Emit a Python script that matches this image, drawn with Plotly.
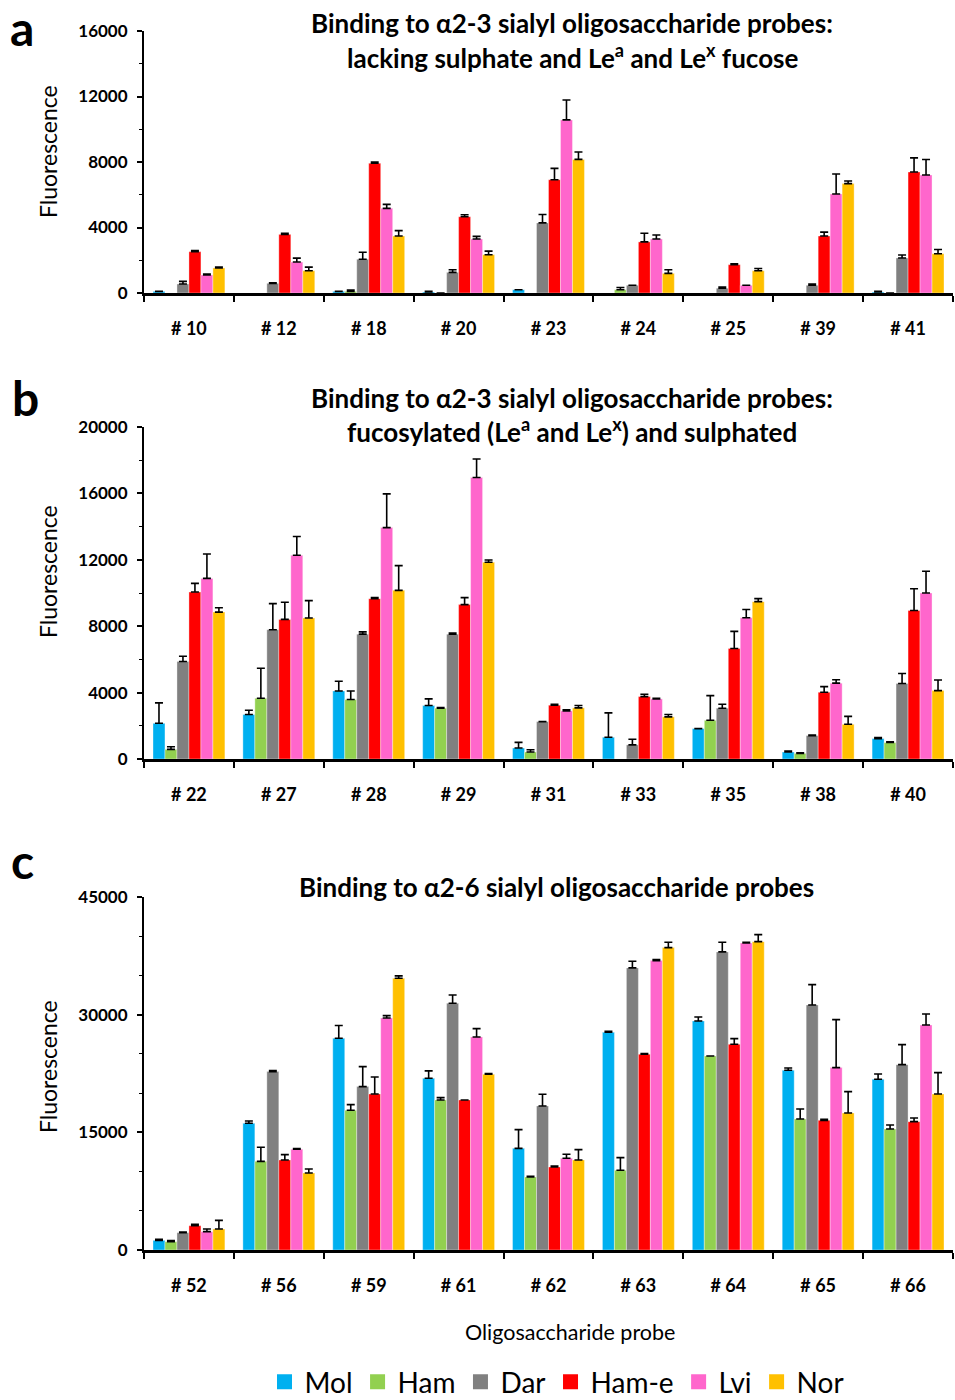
import plotly.graph_objects as go
from plotly.subplots import make_subplots

series_names = ["Mol", "Ham", "Dar", "Ham-e", "Lvi", "Nor"]
series_colors = ["#00B0F0", "#92D050", "#808080", "#FF0000", "#FF66CC", "#FFC000"]

cats_a = ["# 10", "# 12", "# 18", "# 20", "# 23", "# 24", "# 25", "# 39", "# 41"]
cats_b = ["# 22", "# 27", "# 28", "# 29", "# 31", "# 33", "# 35", "# 38", "# 40"]
cats_c = ["# 52", "# 56", "# 59", "# 61", "# 62", "# 63", "# 64", "# 65", "# 66"]

# Panel a
a_mol = [100, -50, 100, 60, 200, -50, -50, -50, 60]
a_mol_err = [0, 0, 0, 50, 0, 0, 0, 0, 50]
a_ham = [-50, -50, 100, 0, -50, 200, -50, -50, 0]
a_ham_err = [0, 0, 80, 0, 0, 140, 0, 0, 0]
a_dar = [550, 590, 2060, 1260, 4280, 470, 290, 470, 2140]
a_dar_err = [160, 40, 430, 160, 510, 0, 80, 80, 180]
a_hame = [2525, 3580, 7920, 4660, 6920, 3120, 1730, 3480, 7390]
a_hame_err = [60, 60, 80, 120, 690, 530, 60, 240, 860]
a_lvi = [1100, 1890, 5170, 3300, 10570, 3300, 470, 6050, 7210]
a_lvi_err = [60, 240, 240, 160, 1220, 240, 0, 1220, 940]
a_nor = [1530, 1360, 3480, 2340, 8160, 1200, 1360, 6680, 2400]
a_nor_err = [60, 220, 330, 220, 450, 220, 140, 160, 260]

# Panel b
b_mol = [2150, 2680, 4100, 3220, 660, 1310, 1830, 420, 1230]
b_mol_err = [1230, 260, 580, 400, 340, 1470, 0, 60, 60]
b_ham = [580, 3660, 3580, 3060, 420, -60, 2330, 340, 990]
b_ham_err = [160, 1810, 520, 40, 140, 0, 1490, 40, 40]
b_dar = [5870, 7790, 7520, 7520, 2250, 850, 3060, 1410, 4550]
b_dar_err = [320, 1570, 140, 60, 0, 340, 240, 40, 600]
b_hame = [10060, 8410, 9660, 9300, 3240, 3760, 6660, 4020, 8950]
b_hame_err = [520, 1030, 60, 420, 60, 140, 1030, 340, 1310]
b_lvi = [10880, 12270, 13940, 16960, 2900, 3620, 8510, 4570, 10000]
b_lvi_err = [1470, 1130, 2030, 1110, 60, 40, 500, 200, 1310]
b_nor = [8850, 8490, 10160, 11850, 3080, 2540, 9480, 2090, 4120]
b_nor_err = [260, 1050, 1490, 140, 140, 140, 180, 480, 640]

# Panel c
c_mol = [1230, 16150, 26990, 21890, 12960, 27750, 29200, 22910, 21760]
c_mol_err = [130, 300, 1620, 940, 2380, 130, 510, 300, 680]
c_ham = [1060, 11300, 17810, 19130, 9310, 10160, 24740, 16700, 15430]
c_ham_err = [130, 1790, 720, 300, 85, 1620, 0, 1280, 510]
c_dar = [2210, 22740, 20830, 31450, 18360, 35960, 38000, 31240, 23630]
c_dar_err = [85, 130, 2550, 1060, 1490, 850, 1230, 2590, 2550]
c_hame = [3100, 11480, 19890, 19130, 10580, 24950, 26220, 16530, 16360]
c_hame_err = [170, 680, 2170, 0, 130, 85, 720, 130, 470]
c_lvi = [2340, 12840, 29580, 27160, 11690, 36890, 39140, 23250, 28690]
c_lvi_err = [340, 85, 300, 1060, 510, 130, 85, 6120, 1400]
c_nor = [2680, 9820, 34640, 22400, 11480, 38550, 39310, 17470, 19890]
c_nor_err = [1100, 510, 300, 85, 1320, 680, 890, 2720, 2720]

panels = [
    (cats_a, [(a_mol, a_mol_err), (a_ham, a_ham_err), (a_dar, a_dar_err),
              (a_hame, a_hame_err), (a_lvi, a_lvi_err), (a_nor, a_nor_err)]),
    (cats_b, [(b_mol, b_mol_err), (b_ham, b_ham_err), (b_dar, b_dar_err),
              (b_hame, b_hame_err), (b_lvi, b_lvi_err), (b_nor, b_nor_err)]),
    (cats_c, [(c_mol, c_mol_err), (c_ham, c_ham_err), (c_dar, c_dar_err),
              (c_hame, c_hame_err), (c_lvi, c_lvi_err), (c_nor, c_nor_err)]),
]
y_ranges = [(0, 16000, 4000, 2000), (0, 20000, 4000, 2000), (0, 45000, 15000, 5000)]

FONT = "Lato"
W, H = 955, 1400
ML, MR = 144, 2
PW = W - ML - MR

def py(px):
    return 1 - px / H

def pxx(px):
    return (px - ML) / PW

fig = make_subplots(rows=3, cols=1)

for p, (cats, series) in enumerate(panels):
    for s, (vals, errs) in enumerate(series):
        fig.add_trace(go.Bar(
            x=cats, y=vals, name=series_names[s],
            marker=dict(color=series_colors[s], line=dict(width=0.6, color="rgba(255,255,255,0.6)")),
            error_y=dict(type="data", array=errs, arrayminus=[0] * len(errs), symmetric=False,
                         color="black", thickness=1.6, width=4),
            showlegend=False, legendgroup=series_names[s],
        ), row=p + 1, col=1)

# legend entries (square swatches)
for s, name in enumerate(series_names):
    fig.add_trace(go.Scatter(
        x=[None], y=[None], mode="markers", name=name, legendgroup=name,
        marker=dict(symbol="square", size=15, color=series_colors[s]),
        showlegend=True,
    ), row=1, col=1)

domains = [(py(293), py(31)), (py(759), py(427)), (py(1250), py(897))]
for i in range(3):
    lo, hi, dt, mdt = y_ranges[i]
    yname = "yaxis" if i == 0 else f"yaxis{i+1}"
    xname = "xaxis" if i == 0 else f"xaxis{i+1}"
    fig.layout[yname].update(
        domain=list(domains[i]), range=[lo, hi], dtick=dt, tick0=0, tickformat="d",
        showgrid=False, zeroline=False, showline=True, linecolor="black", linewidth=2,
        ticks="outside", ticklen=5, tickwidth=1.5, tickcolor="black",
        minor=dict(dtick=mdt, ticks="outside", ticklen=3, tickcolor="black", tickwidth=1),
        tickfont=dict(family=FONT, size=17, color="black", weight="bold"),
        ticklabelstandoff=6, automargin=False,
    )
    fig.layout[xname].update(
        domain=[0, 1], showgrid=False, showline=True, linecolor="black", linewidth=2.5,
        ticks="outside", tickson="boundaries", ticklen=6, tickwidth=1.5, tickcolor="black",
        tickfont=dict(family=FONT, size=18, color="black", weight="bold"),
        ticklabelstandoff=18, automargin=False,
    )

fig.update_layout(
    width=W, height=H, margin=dict(l=ML, r=MR, t=0, b=0, autoexpand=False),
    plot_bgcolor="white", paper_bgcolor="white",
    barmode="group", bargap=0.2, bargroupgap=0,
    font=dict(family=FONT, color="black"),
    legend=dict(orientation="h", x=pxx(557), xanchor="center", y=py(1382), yanchor="middle",
                font=dict(family=FONT, size=28, color="black"), itemwidth=30,
                traceorder="normal", itemclick=False, itemdoubleclick=False),
)

ann = []
tfont = dict(family=FONT, size=26, color="black", weight="bold")
ann.append(dict(x=pxx(572), y=py(23), text="Binding to α2-3 sialyl oligosaccharide probes:", font=tfont))
ann.append(dict(x=pxx(572), y=py(56), text="lacking sulphate and Le<sup>a</sup> and Le<sup>x</sup> fucose", font=tfont))
ann.append(dict(x=pxx(572), y=py(398), text="Binding to α2-3 sialyl oligosaccharide probes:", font=tfont))
ann.append(dict(x=pxx(572), y=py(431), text="fucosylated (Le<sup>a</sup> and Le<sup>x</sup>) and sulphated", font=tfont))
ann.append(dict(x=pxx(556), y=py(887), text="Binding to α2-6 sialyl oligosaccharide probes", font=tfont))
lfont = dict(family=FONT, size=48, color="black", weight="bold")
ann.append(dict(x=pxx(22), y=1, yanchor="top", yshift=3, text="a", font=lfont))
ann.append(dict(x=pxx(25), y=py(397), text="b", font=lfont))
ann.append(dict(x=pxx(23), y=py(860), text="c", font=lfont))
yfont = dict(family=FONT, size=23, color="black")
for yc in [152, 572, 1067]:
    ann.append(dict(x=pxx(48), y=py(yc), text="Fluorescence", font=yfont, textangle=-90))
ann.append(dict(x=pxx(570), y=py(1332), text="Oligosaccharide probe", font=dict(family=FONT, size=21.5, color="black")))
for a in ann:
    a.setdefault("yanchor", "middle")
    a.update(xref="paper", yref="paper", showarrow=False, xanchor="center")
fig.update_layout(annotations=ann)

fig.write_html("out.html", config={"displayModeBar": False},
               post_script="document.body.style.margin='0px';")
